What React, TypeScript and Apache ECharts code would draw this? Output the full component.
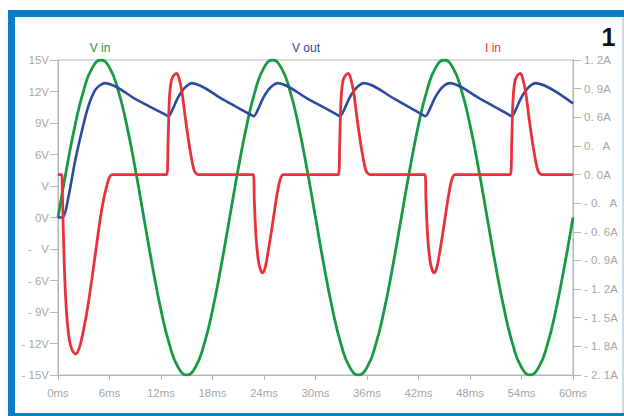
import React, { useEffect, useRef } from "react";
import * as echarts from "echarts";

// Input voltage (V), sampled every 1 ms from 0 to 60 ms
const vInValues = [
  0, 4.64, 8.82, 12.14, 14.27, 15, 14.27, 12.14, 8.82, 4.64,
  0, -4.64, -8.82, -12.14, -14.27, -15, -14.27, -12.14, -8.82, -4.64,
  0, 4.64, 8.82, 12.14, 14.27, 15, 14.27, 12.14, 8.82, 4.64,
  0, -4.64, -8.82, -12.14, -14.27, -15, -14.27, -12.14, -8.82, -4.64,
  0, 4.64, 8.82, 12.14, 14.27, 15, 14.27, 12.14, 8.82, 4.64,
  0, -4.64, -8.82, -12.14, -14.27, -15, -14.27, -12.14, -8.82, -4.64,
  0,
];

// Output voltage (V): time in ms, value
const vOutTimes = [
  0, 0.6, 1.2, 2.0, 2.8, 3.5, 4.3, 4.9, 5.5, 9.2, 12.4, 12.85,
  13.3, 13.9, 14.5, 15.1, 15.6, 19.2, 22.3, 22.8,
  23.25, 23.85, 24.45, 25.05, 25.6, 29.2, 32.4, 32.85,
  33.3, 33.9, 34.5, 35.1, 35.65, 39.2, 42.3, 42.8,
  43.25, 43.85, 44.45, 45.05, 45.65, 49.2, 52.4, 52.85,
  53.3, 53.9, 54.5, 55.1, 55.65, 60,
];
const vOutValues = [
  0, 0.05, 1.9, 5.4, 8.3, 10.5, 12.1, 12.6, 12.8, 11.2, 9.84, 9.65,
  10.2, 11.3, 12.1, 12.6, 12.8, 11.25, 9.85, 9.65,
  10.2, 11.3, 12.1, 12.6, 12.8, 11.25, 9.85, 9.65,
  10.2, 11.3, 12.1, 12.6, 12.8, 11.3, 9.85, 9.65,
  10.2, 11.3, 12.1, 12.6, 12.8, 11.3, 9.85, 9.65,
  10.2, 11.3, 12.1, 12.6, 12.8, 10.85,
];

// Input current (A): time in ms, value
const iInTimes = [
  0, 0.43, 0.5, 0.74, 1.0, 1.3, 1.65, 2.06, 2.5, 2.95, 3.53, 4.31, 5.09, 5.86, 6.33,
  12.66, 12.82, 12.97, 13.2, 13.5, 13.83, 14.12, 14.45, 14.87, 15.38, 15.88, 16.35,
  22.76, 22.87, 23.07, 23.34, 23.6, 23.81, 24.05, 24.31, 24.89, 25.48, 25.86, 26.25,
  32.66, 32.82, 32.97, 33.2, 33.5, 33.83, 34.12, 34.45, 34.87, 35.38, 35.88, 36.35,
  42.76, 42.87, 43.07, 43.34, 43.6, 43.81, 44.05, 44.31, 44.89, 45.48, 45.86, 46.25,
  52.7, 52.86, 53.01, 53.24, 53.54, 53.87, 54.16, 54.49, 54.91, 55.42, 55.92, 56.39,
  60,
];
const iInValues = [
  0, 0, -0.16, -0.97, -1.45, -1.72, -1.84, -1.88, -1.81, -1.64, -1.35, -0.86, -0.37, -0.06, 0,
  0, 0.33, 0.78, 0.98, 1.04, 1.06, 1.0, 0.86, 0.57, 0.26, 0.04, 0,
  0, -0.27, -0.65, -0.9, -1.0, -1.03, -1.0, -0.9, -0.58, -0.23, -0.06, 0,
  0, 0.33, 0.78, 0.98, 1.04, 1.06, 1.0, 0.86, 0.57, 0.26, 0.04, 0,
  0, -0.27, -0.65, -0.9, -1.0, -1.03, -1.0, -0.9, -0.58, -0.23, -0.06, 0,
  0, 0.33, 0.78, 0.98, 1.04, 1.06, 1.0, 0.86, 0.57, 0.26, 0.04, 0,
  0,
];

const seriesNames = ["V in", "V out", "I in"];
const seriesColors = ["#169a42", "#2a4b9e", "#e8323b"];

const leftTickValues = [15, 12, 9, 6, 3, 0, -3, -6, -9, -12, -15];
const leftTickLabels = ["15V", "12V", "9V", "6V", "V", "0V", "-   V", "- 6V", "- 9V", "- 12V", "- 15V"];

const rightTickValues = [1.2, 0.9, 0.6, 0.3, 0, -0.3, -0.6, -0.9, -1.2, -1.5, -1.8, -2.1];
const rightTickLabels = [
  "1. 2A", "0. 9A", "0. 6A", "0.   A", "0. 0A", "- 0.   A",
  "- 0. 6A", "- 0. 9A", "- 1. 2A", "- 1. 5A", "- 1. 8A", "- 2. 1A",
];

const figureNumber = "1";

const FONT = "'Liberation Sans', Arial, sans-serif";
const AXIS_GRAY = "#b5b5b5";
const LABEL_GRAY = "#a6a6a6";
const FRAME_BLUE = "#0b7cc6";

function labelFor(values: number[], labels: string[], v: number): string {
  const i = values.findIndex((tv) => Math.abs(tv - v) < 1e-6);
  return i >= 0 ? labels[i] : "";
}

export default function App() {
  const ref = useRef<HTMLDivElement>(null);

  useEffect(() => {
    if (!ref.current) return;
    const chart = echarts.init(ref.current, undefined, { renderer: "svg" });

    const vInData = vInValues.map((v, i) => [i, v]);
    const vOutData = vOutTimes.map((t, i) => [t, vOutValues[i]]);
    const iInData = iInTimes.map((t, i) => [t, iInValues[i]]);

    chart.setOption({
      animation: false,
      textStyle: { fontFamily: FONT },
      grid: {
        left: 58,
        right: 51,
        top: 60,
        bottom: 41,
        show: true,
        borderColor: AXIS_GRAY,
        borderWidth: 1,
        backgroundColor: "transparent",
      },
      xAxis: {
        type: "value",
        min: 0,
        max: 60,
        interval: 6,
        axisLine: { show: true, onZero: false, lineStyle: { color: AXIS_GRAY, width: 1 } },
        axisTick: { show: true, length: 5, lineStyle: { color: AXIS_GRAY } },
        splitLine: { show: false },
        axisLabel: {
          color: LABEL_GRAY,
          fontSize: 11.5,
          fontFamily: FONT,
          margin: 12,
          formatter: (v: number) => `${v}ms`,
        },
      },
      yAxis: [
        {
          type: "value",
          position: "left",
          min: -15,
          max: 15,
          interval: 3,
          axisLine: { show: true, onZero: false, lineStyle: { color: AXIS_GRAY, width: 1 } },
          axisTick: { show: true, length: 8, lineStyle: { color: AXIS_GRAY } },
          splitLine: { show: false },
          axisLabel: {
            color: LABEL_GRAY,
            fontSize: 11.5,
            fontFamily: FONT,
            margin: 9,
            formatter: (v: number) => labelFor(leftTickValues, leftTickLabels, v),
          },
        },
        {
          type: "value",
          position: "right",
          min: -2.1,
          max: 1.2,
          interval: 0.3,
          axisLine: { show: true, onZero: false, lineStyle: { color: AXIS_GRAY, width: 1 } },
          axisTick: { show: true, length: 8, lineStyle: { color: AXIS_GRAY } },
          splitLine: { show: false },
          axisLabel: {
            color: LABEL_GRAY,
            fontSize: 11.5,
            fontFamily: FONT,
            margin: 11,
            formatter: (v: number) => labelFor(rightTickValues, rightTickLabels, v),
          },
        },
      ],
      graphic: [
        {
          type: "rect",
          z: -10,
          silent: true,
          shape: { x: 8, y: 10, width: 616, height: 406 },
          style: { fill: FRAME_BLUE },
        },
        {
          type: "rect",
          z: -9,
          silent: true,
          shape: { x: 15, y: 17, width: 607, height: 396 },
          style: { fill: "#ffffff" },
        },
        {
          type: "rect",
          z: -9,
          silent: true,
          shape: { x: 622, y: 17, width: 2, height: 396 },
          style: { fill: "#c9dcec" },
        },
        {
          type: "text",
          x: 608.5,
          y: 37,
          style: {
            text: figureNumber,
            fill: "#111111",
            font: `bold 25px ${FONT}`,
            align: "center",
            verticalAlign: "middle",
          },
        },
        {
          type: "text",
          x: 100,
          y: 48,
          style: {
            text: seriesNames[0],
            fill: seriesColors[0],
            font: `12px ${FONT}`,
            align: "center",
            verticalAlign: "middle",
          },
        },
        {
          type: "text",
          x: 306,
          y: 48,
          style: {
            text: seriesNames[1],
            fill: seriesColors[1],
            font: `12px ${FONT}`,
            align: "center",
            verticalAlign: "middle",
          },
        },
        {
          type: "text",
          x: 493,
          y: 48,
          style: {
            text: seriesNames[2],
            fill: seriesColors[2],
            font: `12px ${FONT}`,
            align: "center",
            verticalAlign: "middle",
          },
        },
      ],
      series: [
        {
          name: seriesNames[0],
          type: "line",
          yAxisIndex: 0,
          data: vInData,
          smooth: 0.5,
          showSymbol: false,
          lineStyle: { color: seriesColors[0], width: 2.8 },
          z: 3,
        },
        {
          name: seriesNames[1],
          type: "line",
          yAxisIndex: 0,
          data: vOutData,
          smooth: 0.3,
          showSymbol: false,
          lineStyle: { color: seriesColors[1], width: 2.6 },
          z: 4,
        },
        {
          name: seriesNames[2],
          type: "line",
          yAxisIndex: 1,
          data: iInData,
          smooth: 0.3,
          showSymbol: false,
          lineStyle: { color: seriesColors[2], width: 2.8 },
          z: 5,
        },
      ],
    });

    return () => chart.dispose();
  }, []);

  return (
    <div
      ref={ref}
      style={{ position: "absolute", left: 0, top: 0, width: 624, height: 416 }}
    />
  );
}
